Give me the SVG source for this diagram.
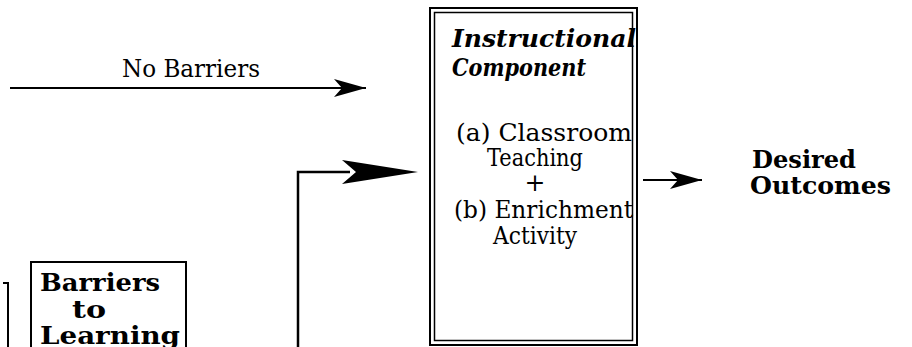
<svg xmlns="http://www.w3.org/2000/svg" width="912" height="347" viewBox="0 0 912 347">
<style>
.t{font-family:"DejaVu Serif","Liberation Serif",serif;fill:#000;font-size:25px}
.b{font-weight:bold}
.i{font-style:italic;font-weight:bold}
.ln{stroke:#000;fill:none}
</style>
<defs>
<marker id="ah" markerWidth="32" markerHeight="18" refX="32" refY="9" orient="auto" markerUnits="userSpaceOnUse">
<path d="M0,0 L32,9 L0,18 L8,9 Z" fill="#000"/>
</marker>
</defs>
<rect width="912" height="347" fill="#fff"/>
<g id="connectors">
<line class="ln" x1="10" y1="88" x2="366" y2="88" stroke-width="2" marker-end="url(#ah)"/>
<text class="t" x="122" y="77" textLength="138" lengthAdjust="spacingAndGlyphs">No Barriers</text>
<polyline class="ln" points="298,347 298,172 350,172" stroke-width="2.5"/>
<path d="M342,160 L418,172 L342,184 L356,172 Z" fill="#000"/>
<line class="ln" x1="643" y1="180" x2="702" y2="180" stroke-width="2" marker-end="url(#ah)"/>
<polyline class="ln" points="3,283 8,283 8,347" stroke-width="2"/>
</g>
<g id="instructional">
<rect class="ln" x="430" y="8" width="207" height="337" stroke-width="2"/>
<rect class="ln" x="434.5" y="12.5" width="198" height="328" stroke-width="1.5"/>
<text class="t i" x="452" y="47" textLength="184" lengthAdjust="spacingAndGlyphs">Instructional</text>
<text class="t i" x="452" y="76" textLength="134" lengthAdjust="spacingAndGlyphs">Component</text>
<text class="t" x="456" y="141" textLength="176" lengthAdjust="spacingAndGlyphs">(a) Classroom</text>
<text class="t" x="487" y="166" textLength="96" lengthAdjust="spacingAndGlyphs">Teaching</text>
<text class="t" x="535" y="191" text-anchor="middle">+</text>
<text class="t" x="454" y="218" textLength="179" lengthAdjust="spacingAndGlyphs">(b) Enrichment</text>
<text class="t" x="493" y="244" textLength="84" lengthAdjust="spacingAndGlyphs">Activity</text>
</g>
<g id="outcomes">
<text class="t b" x="752" y="168" textLength="104" lengthAdjust="spacingAndGlyphs">Desired</text>
<text class="t b" x="750" y="194" textLength="141" lengthAdjust="spacingAndGlyphs">Outcomes</text>
</g>
<g id="barriers">
<rect class="ln" x="31" y="262" width="155" height="100" stroke-width="2"/>
<text class="t b" x="40" y="291" textLength="120" lengthAdjust="spacingAndGlyphs">Barriers</text>
<text class="t b" x="72" y="318" textLength="34" lengthAdjust="spacingAndGlyphs">to</text>
<text class="t b" x="40" y="344" textLength="140" lengthAdjust="spacingAndGlyphs">Learning</text>
</g>
</svg>
